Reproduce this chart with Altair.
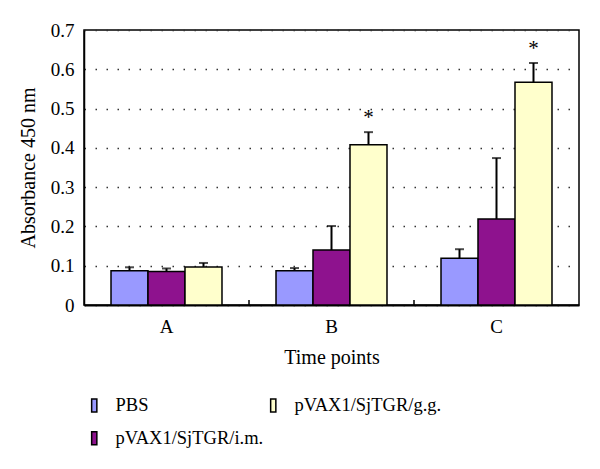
import altair as alt
import pandas as pd

times = ["A", "B", "C"]
groups = ["PBS", "pVAX1/SjTGR/i.m.", "pVAX1/SjTGR/g.g."]
colors = ["#9999FF", "#8E128E", "#FFFFCC"]

pbs = [0.087, 0.087, 0.119]
pbs_err = [0.009, 0.007, 0.023]
im = [0.085, 0.140, 0.219]
im_err = [0.008, 0.061, 0.155]
gg = [0.097, 0.408, 0.567]
gg_err = [0.010, 0.032, 0.049]
y_ticks = [0, 0.1, 0.2, 0.3, 0.4, 0.5, 0.6, 0.7]
stars = {("B", "pVAX1/SjTGR/g.g."), ("C", "pVAX1/SjTGR/g.g.")}

rows = []
for g, vals, errs in [(groups[0], pbs, pbs_err), (groups[1], im, im_err), (groups[2], gg, gg_err)]:
    for t, v, e in zip(times, vals, errs):
        rows.append({"time": t, "group": g, "value": v, "upper": v + e,
                     "star": "*" if (t, g) in stars else ""})
df = pd.DataFrame(rows)
ticks_df = pd.DataFrame({"time": times[1:]})

FONT = "Liberation Serif"

x = alt.X("time:N", scale=alt.Scale(domain=times, paddingInner=0, paddingOuter=0),
          axis=alt.Axis(title="Time points", labelAngle=0, ticks=False, labelPadding=12,
                        titlePadding=11, domainColor="black", domainWidth=2))
xoff = alt.XOffset("group:N", sort=groups,
                   scale=alt.Scale(domain=groups, paddingOuter=0.73, paddingInner=0))
y_scale = alt.Scale(domain=[0, 0.7], nice=False)
y_axis = alt.Axis(title="Absorbance 450 nm", values=y_ticks,
                  format=".1~f", ticks=False, labelPadding=10, titlePadding=12,
                  domainColor="black", domainWidth=1.5, labelOverlap=False,
                  grid=True, gridColor="#333333", gridDash=[1.5, 9.5], gridWidth=1.5)


def y_enc(field):
    return alt.Y(field, scale=y_scale, axis=y_axis)


bars = alt.Chart(df).mark_bar(stroke="black", strokeWidth=1.5).encode(
    x=x,
    xOffset=xoff,
    y=y_enc("value:Q"),
    color=alt.Color("group:N",
                    scale=alt.Scale(domain=groups, range=colors),
                    legend=alt.Legend(title=None, orient="none", legendX=1, legendY=366,
                                      columns=2, columnPadding=0, rowPadding=13, padding=0,
                                      symbolType="M-0.4,-1H0.4V1H-0.4Z", symbolSize=169,
                                      symbolStrokeColor="black", symbolStrokeWidth=1.5,
                                      labelFont=FONT, labelFontSize=18.5, labelOffset=12,
                                      labelColor="black", labelLimit=400)),
)

err_rule = alt.Chart(df).mark_rule(color="black", strokeWidth=2).encode(
    x=x, xOffset=xoff, y=y_enc("value:Q"), y2="upper:Q")
err_cap = alt.Chart(df).mark_tick(color="black", size=9, thickness=2).encode(
    x=x, xOffset=xoff, y=y_enc("upper:Q"))
star_text = alt.Chart(df).transform_filter(alt.datum.star != "").mark_text(
    font=FONT, fontSize=21, baseline="bottom", dy=-4, color="black").encode(
    x=x, xOffset=xoff, y=y_enc("upper:Q"), text="star:N")
cat_ticks = alt.Chart(ticks_df).mark_rule(color="black", strokeWidth=1.5).encode(
    x=alt.X("time:N", bandPosition=0, scale=alt.Scale(domain=times)),
    y=alt.value(275), y2=alt.value(270))

chart = alt.layer(bars, err_rule, err_cap, star_text, cat_ticks).properties(
    width=495, height=275,
    autosize=alt.AutoSizeParams(type="none"),
    padding={"left": 76, "top": 22, "right": 13, "bottom": 155},
).configure_view(stroke="black", strokeWidth=1.5).configure_axis(
    labelFont=FONT, labelFontSize=19, labelColor="black",
    titleFont=FONT, titleFontSize=20, titleFontWeight="normal", titleColor="black",
)

chart.save("out.html", embed_options={"renderer": "svg", "actions": False})
